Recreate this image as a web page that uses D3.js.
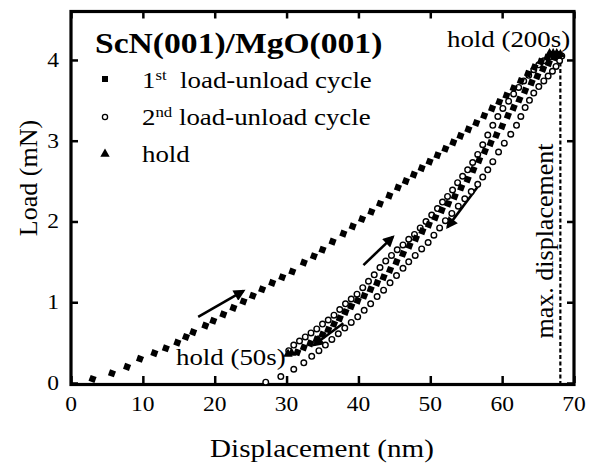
<!DOCTYPE html>
<html>
<head>
<meta charset="utf-8">
<script src="https://cdn.jsdelivr.net/npm/d3@7"></script>
<style>
  body { margin: 0; background: #fff; }
  text { font-family: "Liberation Serif", "Times New Roman", serif; fill: #000; }
</style>
</head>
<body>
<svg id="chart" width="589" height="468"></svg>
<script>
// 1st load-unload cycle, loading branch (displacement nm, load mN)
var load1 = [[3.0,0.05],[5.7,0.12],[7.8,0.2],[9.6,0.3],[11.6,0.37],[13.2,0.43],[14.8,0.5],[16.0,0.57],
  [17.0,0.63],[18.7,0.71],[19.8,0.77],[21.2,0.85],[22.6,0.93],[24.0,1.01],[25.3,1.08],[26.6,1.16],
  [28.0,1.24],[29.4,1.31],[30.8,1.38],[32.4,1.49],[33.8,1.57],[35.0,1.65],[36.4,1.75],[37.9,1.85],
  [39.2,1.94],[40.5,2.03],[41.8,2.12],[43.0,2.22],[44.3,2.32],[45.5,2.42],[46.6,2.50],[47.7,2.58],
  [48.8,2.66],[49.9,2.74],[51.0,2.82],[52.1,2.90],[53.2,2.98],[54.2,3.06],[55.3,3.14],[56.4,3.22],
  [57.5,3.31],[58.6,3.40],[59.6,3.48],[60.6,3.56],[61.6,3.65],[62.6,3.74],[63.6,3.83],[64.5,3.91],
  [65.4,3.98],[66.3,4.03],[67.1,4.06],[67.8,4.07]];
// 1st cycle, unloading branch
var unload1 = [[68.0,4.06],[67.3,4.03],[66.5,3.96],[65.7,3.89],[64.9,3.80],[64.1,3.72],[63.2,3.62],
  [62.4,3.51],[61.6,3.41],[60.8,3.31],[60.0,3.18],[59.2,3.07],[58.4,2.97],[57.6,2.87],[56.8,2.76],
  [56.0,2.64],[55.2,2.52],[54.3,2.42],[53.4,2.31],[52.5,2.22],[51.6,2.14],[50.7,2.05],[49.8,1.96],
  [48.9,1.88],[48.0,1.79],[47.1,1.70],[46.2,1.60],[45.3,1.50],[44.4,1.40],[43.5,1.31],[42.6,1.24],
  [41.7,1.16],[40.8,1.08],[39.9,1.02],[39.0,0.95],[38.2,0.88],[37.4,0.80],[36.6,0.73],[35.8,0.66],
  [35.0,0.60],[34.2,0.54],[33.3,0.49],[32.4,0.44],[31.5,0.38]];
// 2nd cycle, loading branch
var load2 = [[30.3,0.40],[31.0,0.47],[31.8,0.52],[32.6,0.57],[33.4,0.62],[34.2,0.67],[35.0,0.73],
  [35.8,0.78],[36.6,0.84],[37.4,0.91],[38.2,0.98],[39.0,1.04],[39.8,1.10],[40.6,1.18],[41.4,1.26],
  [42.2,1.34],[43.0,1.43],[43.8,1.51],[44.6,1.58],[45.4,1.65],[46.2,1.71],[47.0,1.78],[47.8,1.84],
  [48.6,1.92],[49.4,2.00],[50.2,2.08],[51.0,2.16],[51.7,2.24],[52.4,2.31],[53.1,2.39],[53.8,2.48],
  [54.5,2.56],[55.2,2.64],[55.9,2.73],[56.6,2.83],[57.3,2.95],[58.0,3.07],[58.7,3.19],[59.4,3.30],
  [60.1,3.40],[60.9,3.49],[61.6,3.58],[62.3,3.66],[63.0,3.74],[63.7,3.81],[64.4,3.88],[65.1,3.94],
  [65.8,3.99],[66.5,4.03],[67.2,4.06]];
// 2nd cycle, unloading branch
var unload2 = [[68.3,4.05],[68.0,3.99],[67.5,3.92],[67.0,3.86],[66.4,3.80],[65.8,3.74],[65.1,3.67],
  [64.4,3.59],[63.8,3.50],[63.2,3.41],[62.6,3.30],[62.0,3.19],[61.2,3.08],[60.3,2.97],[59.5,2.86],
  [58.7,2.74],[58.0,2.64],[57.3,2.55],[56.6,2.46],[55.7,2.37],[54.8,2.28],[53.9,2.19],[53.0,2.10],
  [52.1,2.01],[51.3,1.92],[50.5,1.83],[49.7,1.74],[48.8,1.66],[47.9,1.58],[47.0,1.50],[46.2,1.42],
  [45.3,1.33],[44.4,1.24],[43.5,1.15],[42.6,1.07],[41.7,0.98],[40.8,0.90],[39.9,0.82],[39.0,0.75],
  [38.1,0.68],[37.2,0.61],[36.3,0.54],[35.4,0.47],[34.5,0.40],[33.5,0.33],[32.4,0.25],[31.0,0.17],
  [29.2,0.08],[27.1,0.01]];
// hold segments
var holdTop = [[66.6,4.08],[67.1,4.08],[67.6,4.08],[68.1,4.07]];
var holdLow = [[30.2,0.36],[30.7,0.37]];
// direction arrows [from, to]
var arrows = [[[17.7,0.82],[24.0,1.14]], [[40.7,1.46],[44.8,1.81]],
  [[56.6,2.43],[52.4,1.93]], [[37.9,0.74],[33.8,0.47]]];
var maxDisp = 68.1, maxLoad = 4.05;
var xTicks = [0,10,20,30,40,50,60,70];
var yTicks = [0,1,2,3,4];

var svg = d3.select("#chart");
var x = d3.scaleLinear().domain([0,70]).range([71,574]);
var y = d3.scaleLinear().domain([0,4.6]).range([383,11.5]);
var sx = 1.12; // the scan is stretched horizontally

function htext(px, py, str, size, anchor, weight) {
  var t = svg.append("text")
    .attr("transform", "translate(" + px + "," + py + ") scale(" + sx + ",1)")
    .style("font-size", size + "px")
    .attr("text-anchor", anchor || "start");
  if (weight) t.style("font-weight", weight);
  if (str) t.text(str);
  return t;
}

// axes, ticks inward on all four sides
svg.append("g").attr("transform", "translate(0," + y(0) + ")")
  .call(d3.axisBottom(x).tickValues(xTicks).tickSize(-7).tickSizeOuter(0).tickFormat(""))
  .call(function(g){ g.select(".domain").remove(); });
svg.append("g").attr("transform", "translate(0," + y(4.6) + ")")
  .call(d3.axisTop(x).tickValues(xTicks).tickSize(-7).tickSizeOuter(0).tickFormat(""))
  .call(function(g){ g.select(".domain").remove(); });
svg.append("g").attr("transform", "translate(" + x(0) + ",0)")
  .call(d3.axisLeft(y).tickValues(yTicks).tickSize(-7).tickSizeOuter(0).tickFormat(""))
  .call(function(g){ g.select(".domain").remove(); });
svg.append("g").attr("transform", "translate(" + x(70) + ",0)")
  .call(d3.axisRight(y).tickValues(yTicks).tickSize(-7).tickSizeOuter(0).tickFormat(""))
  .call(function(g){ g.select(".domain").remove(); });
svg.selectAll(".tick line").attr("stroke", "#000").attr("stroke-width", 2.5);

svg.append("rect")
  .attr("x", x(0)).attr("y", y(4.6))
  .attr("width", x(70) - x(0)).attr("height", y(0) - y(4.6) + 1.5)
  .attr("fill", "none").attr("stroke", "#000").attr("stroke-width", 3.2);

xTicks.forEach(function(v){ htext(x(v), 411, String(v), 21, "middle"); });
yTicks.forEach(function(v){ htext(59, y(v) + 7, String(v), 21, "end"); });

htext(322, 457, "Displacement (nm)", 26, "middle");
svg.append("text")
  .attr("transform", "translate(37,178) rotate(-90)")
  .attr("text-anchor", "middle").style("font-size", "26px")
  .text("Load (mN)");

// max displacement line
svg.append("line")
  .attr("x1", x(maxDisp)).attr("x2", x(maxDisp))
  .attr("y1", y(maxLoad)).attr("y2", y(0))
  .attr("stroke", "#000").attr("stroke-width", 2.2).attr("stroke-dasharray", "4,2.5");
svg.append("text")
  .attr("transform", "translate(" + (x(maxDisp) - 7) + ",241) rotate(-90)")
  .attr("text-anchor", "middle").style("font-size", "26px")
  .text("max. displacement");

// arrows
svg.append("defs").append("marker")
  .attr("id", "head").attr("viewBox", "0 0 10 10")
  .attr("refX", 8).attr("refY", 5)
  .attr("markerWidth", 5).attr("markerHeight", 4.5)
  .attr("markerUnits", "strokeWidth").attr("orient", "auto")
  .append("path").attr("d", "M0,0L10,5L0,10z").attr("fill", "#000");
svg.selectAll(".arrow").data(arrows).enter().append("line")
  .attr("x1", function(d){ return x(d[0][0]); }).attr("y1", function(d){ return y(d[0][1]); })
  .attr("x2", function(d){ return x(d[1][0]); }).attr("y2", function(d){ return y(d[1][1]); })
  .attr("stroke", "#000").attr("stroke-width", 2.6).attr("marker-end", "url(#head)");

// data marks
var square = d3.symbol().type(d3.symbolSquare).size(40);
var tri = d3.symbol().type(d3.symbolTriangle).size(38);

function circles(data) {
  svg.append("g").selectAll("circle").data(data).enter().append("circle")
    .attr("cx", function(d){ return x(d[0]); }).attr("cy", function(d){ return y(d[1]); })
    .attr("r", 2.8).attr("fill", "#fff").attr("stroke", "#000").attr("stroke-width", 1.4);
}
function squares(data) {
  svg.append("g").selectAll("path").data(data).enter().append("path")
    .attr("d", square)
    .attr("transform", function(d){ return "translate(" + x(d[0]) + "," + y(d[1]) + ") rotate(20)"; })
    .attr("fill", "#000");
}
function triangles(data) {
  svg.append("g").selectAll("path").data(data).enter().append("path")
    .attr("d", tri)
    .attr("transform", function(d){ return "translate(" + x(d[0]) + "," + y(d[1]) + ")"; })
    .attr("fill", "#000");
}
circles(load2);
circles(unload2);
squares(load1);
squares(unload1);
triangles(holdTop);
triangles(holdLow);

// title and legend
htext(95, 53, "ScN(001)/MgO(001)", 30, "start", "bold");
svg.append("rect").attr("x", 102).attr("y", 76).attr("width", 6).attr("height", 6).attr("fill", "#000");
svg.append("circle").attr("cx", 105).attr("cy", 117).attr("r", 2.6)
  .attr("fill", "#fff").attr("stroke", "#000").attr("stroke-width", 1.3);
svg.append("path").attr("d", tri).attr("transform", "translate(105,154)").attr("fill", "#000");

var l1 = htext(142, 88, null, 24);
l1.append("tspan").text("1");
l1.append("tspan").attr("dy", -8).style("font-size", "15px").text("st");
l1.append("tspan").attr("dy", 8).text("  load-unload cycle").attr("xml:space", "preserve");
var l2 = htext(142, 125, null, 24);
l2.append("tspan").text("2");
l2.append("tspan").attr("dy", -8).style("font-size", "15px").text("nd");
l2.append("tspan").attr("dy", 8).text(" load-unload cycle");
htext(142, 162, "hold", 24);

htext(447, 47, "hold (200s)", 24);
htext(176, 365, "hold (50s)", 24);
</script>
</body>
</html>
